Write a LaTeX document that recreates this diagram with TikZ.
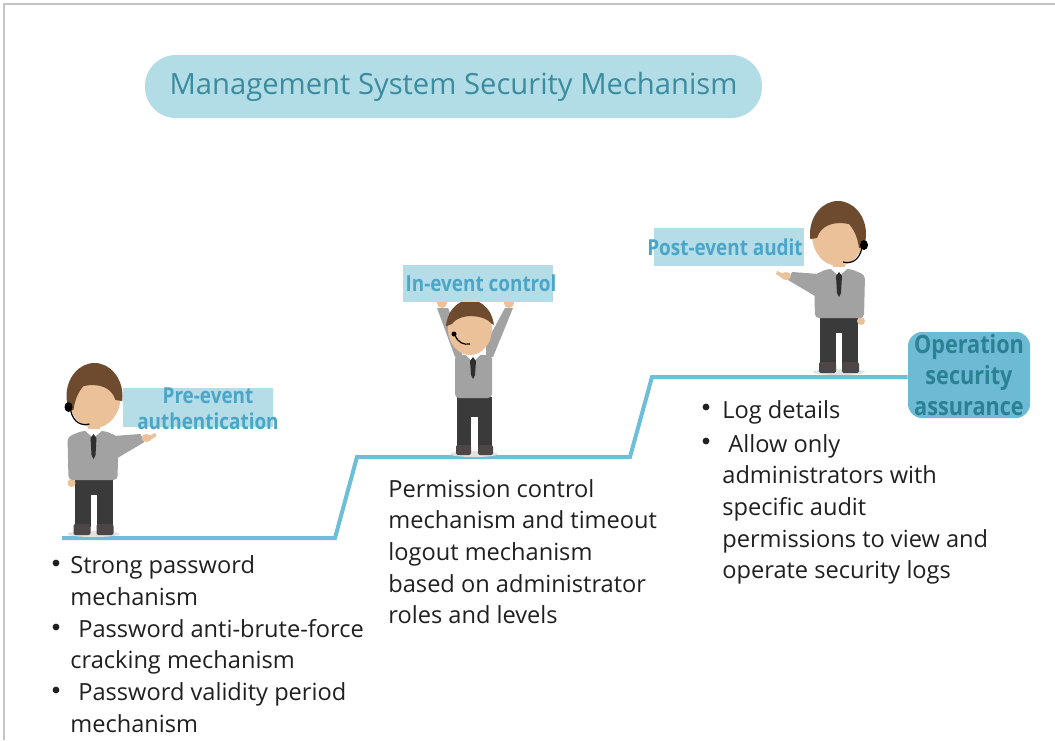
\documentclass[tikz,border=0pt]{standalone}
\usepackage{fontspec}
\setmainfont{Open Sans}
\newfontfamily\condfont[FakeStretch=0.86]{Open Sans}
\usetikzlibrary{calc}

\definecolor{framegrey}{HTML}{C4C4C4}
\definecolor{titlefill}{HTML}{B2DCE6}
\definecolor{titletext}{HTML}{3B8C9E}
\definecolor{labelfill}{HTML}{B5DDE8}
\definecolor{labeltext}{HTML}{4BA5C6}
\definecolor{stepcol}{HTML}{6DBED8}
\definecolor{opfill}{HTML}{6CBAD4}
\definecolor{optext}{HTML}{2C8094}
\definecolor{bodytext}{HTML}{202020}
\definecolor{haircol}{HTML}{6E4B2F}
\definecolor{skincol}{HTML}{EBC19A}
\definecolor{shirtcol}{HTML}{A2A2A2}
\definecolor{tiecol}{HTML}{2F2F2F}
\definecolor{pantscol}{HTML}{3A3A3A}
\definecolor{shoecol}{HTML}{4E4646}
\definecolor{shadowgrey}{HTML}{E2E2E2}

\tikzset{
  body/.style={font=\fontsize{11.8}{15.8}\selectfont, text=bodytext, inner sep=0pt},
  dot/.style={circle, fill=bodytext, inner sep=0pt, minimum size=3.4pt},
  titlebox/.style={fill=titlefill, text=titletext, rounded corners=15.5pt,
    minimum width=308.5pt, minimum height=31.5pt, inner sep=0pt,
    font=\fontsize{14.6}{17}\selectfont},
  labelbox/.style={fill=labelfill, minimum width=75pt, inner sep=0pt},
  labeltxt/.style={text=labeltext, inner sep=0pt, align=center,
    font=\condfont\bfseries\fontsize{11}{13}\selectfont},
  opbox/.style={fill=opfill, text=optext, rounded corners=7pt,
    minimum width=61pt, minimum height=43pt, inner sep=0pt, align=center,
    font=\condfont\bfseries\fontsize{12.6}{15.5}\selectfont},
  stepline/.style={draw=stepcol, line width=2pt, line join=miter},
  % standing figure with one arm pointing to the side
  pics/pointer/.style={code={
    \fill[shadowgrey] (0,-1) ellipse [x radius=26, y radius=3];
    \fill[pantscol] (-19,-57) rectangle (19,-40);
    \fill[pantscol] (-19,-40) rectangle (-3,-8);
    \fill[pantscol] (3,-40) rectangle (19,-8);
    \fill[shoecol, rounded corners=1pt] (-20,-11) rectangle (-3,0);
    \fill[shoecol, rounded corners=1pt] (3,-11) rectangle (20,0);
    \fill[skincol] (-22,-52) circle [radius=4];
    \fill[shirtcol] (20,-99) -- (47,-101) -- (51,-93) -- (24,-77) -- cycle;
    \fill[skincol] (53,-97) ellipse [x radius=5, y radius=4];
    \fill[skincol] (55,-99) -- (62,-102) -- (63,-99) -- (57,-95) -- cycle;
    \fill[shirtcol, rounded corners=2pt] (-25,-55) -- (-26,-98) -- (-12,-104)
      -- (12,-104) -- (25,-98) -- (24,-55) -- cycle;
    \fill[skincol] (-6,-112) rectangle (6,-102);
    \fill[white] (-8,-104) -- (0,-97) -- (8,-104) -- (6,-106) -- (-6,-106) -- cycle;
    \fill[tiecol] (0,-101) -- (-3,-97) -- (-2,-80) -- (0,-76) -- (2,-80) -- (3,-97) -- cycle;
    \fill[skincol] (1,-138) ellipse [x radius=26, y radius=31];
    \begin{scope}
      \clip (1,-139) ellipse [x radius=28, y radius=33];
      \fill[haircol] (-30,-125) -- (-30,-185) -- (35,-185) -- (35,-133) -- (22,-135)
        .. controls (18,-148) and (5,-152) .. (-10,-149)
        .. controls (-17,-141) and (-19,-132) .. (-20,-125) -- cycle;
    \end{scope}
    \draw[black, line width=0.6pt] (-23,-125) .. controls (-20,-112) and (-12,-109) .. (-4,-111);
    \fill[black] (-25,-128) ellipse [x radius=4, y radius=5];
  }},
  % standing figure holding both arms up
  pics/cheer/.style={code={
    \fill[shadowgrey] (0,-1) ellipse [x radius=24, y radius=3];
    \fill[pantscol] (-17,-58) rectangle (18,-38);
    \fill[pantscol] (-17,-38) rectangle (-3,-8);
    \fill[pantscol] (4,-38) rectangle (18,-8);
    \fill[shoecol, rounded corners=1pt] (-18,-10) rectangle (-3,0);
    \fill[shoecol, rounded corners=1pt] (4,-10) rectangle (19,0);
    \fill[shirtcol] (-37,-147) -- (-26,-147) -- (-12,-112) -- (-12,-98) -- (-19,-98) -- cycle;
    \fill[shirtcol] (39,-147) -- (31,-147) -- (12,-112) -- (12,-98) -- (19,-98) -- cycle;
    \fill[skincol] (-32,-152) circle [radius=5];
    \fill[skincol] (35,-152) circle [radius=5];
    \fill[shirtcol, rounded corners=2pt] (-19,-57) rectangle (18,-100);
    \fill[skincol] (-6,-108) rectangle (4,-98);
    \fill[white] (-8,-100) -- (-1,-93) -- (6,-100) -- (4,-102) -- (-6,-102) -- cycle;
    \fill[tiecol] (-1,-98) -- (-4,-94) -- (-3,-80) -- (-1,-76) -- (1,-80) -- (2,-94) -- cycle;
    \fill[skincol] (-4,-126) ellipse [x radius=22, y radius=26];
    \begin{scope}
      \clip (-4,-127) ellipse [x radius=24, y radius=28];
      \fill[haircol] (-30,-128) -- (-30,-185) -- (25,-185) -- (25,-128) -- (18,-131)
        .. controls (10,-141) and (-15,-142) .. (-22,-131) -- cycle;
    \end{scope}
    \draw[black, line width=0.6pt] (-19,-120) .. controls (-16,-112) and (-10,-110) .. (-4,-111);
    \fill[black] (-20,-121) circle [radius=2.5];
  }}
}

\begin{document}
\begin{tikzpicture}[x=0.5pt, y=-0.5pt]
\useasboundingbox (0,0) rectangle (1055,740);
\fill[white] (0,0) rectangle (1055,740);
\draw[framegrey, line width=0.8pt] (4,740) -- (4,4) -- (1055,4);

% heading
\node[titlebox] (title) at (453.5,86.5) {Management System Security Mechanism};

% staircase
\node[opbox] (op) at (969,375) {Operation\\security\\assurance};
\coordinate (s0) at (62,538);
\coordinate (s1) at (335,538);
\coordinate (s2) at (357,457);
\coordinate (s3) at (630,457);
\coordinate (s4) at (652,377);
\draw[stepline] (s0) -- (s1) -- (s2) -- (s3) -- (s4) -- (s4 -| op.west);

% figures on the steps
\pic (p1) at (93.5,535) {pointer};
\pic (p2) at (474,455) {cheer};
\pic[xscale=-1] (p3) at (839,373) {pointer};

% stage labels
\node[labelbox, minimum height=19.5pt] (preB) at (198,407.5) {};
\node[labeltxt] (preT) at (208,409) {Pre-event\\authentication};
\node[labelbox, minimum height=18.5pt] (inB) at (478,283.5) {};
\node[labeltxt] (inT) at (481,283) {In-event control};
\node[labelbox, minimum height=19pt] (postB) at (729,247) {};
\node[labeltxt] (postT) at (725,247) {Post-event audit};

% pre-event measures
\foreach \x/\y/\t [count=\i] in {70/573/Strong password, 70/605/mechanism,
    78/637/Password anti-brute-force, 70/668/cracking mechanism,
    78/700/Password validity period, 70/732/mechanism}
  \node[body, anchor=base west] (pre\i) at (\x,\y) {\t};
\foreach \y [count=\i] in {573,637,700}
  \node[dot] (preD\i) at (56,\y-10) {};

% in-event measures
\foreach \y/\t [count=\i] in {497/Permission control, 528/mechanism and timeout,
    560/logout mechanism, 592/based on administrator, 623/roles and levels}
  \node[body, anchor=base west] (in\i) at (388,\y) {\t};

% post-event measures
\foreach \x/\y/\t [count=\i] in {722/418/Log details, 728/452/Allow only,
    722/483/administrators with, 722/515/specific audit,
    722/547/permissions to view and, 722/578/operate security logs}
  \node[body, anchor=base west] (post\i) at (\x,\y) {\t};
\foreach \y [count=\i] in {418,452}
  \node[dot] (postD\i) at (706,\y-11) {};
\end{tikzpicture}
\end{document}
